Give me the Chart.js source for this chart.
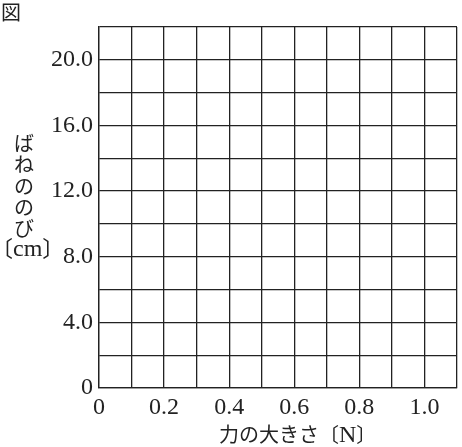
<!DOCTYPE html>
<html>
<head>
<meta charset="utf-8">
<script src="https://cdn.jsdelivr.net/npm/chart.js@4.4.1/dist/chart.umd.min.js"></script>
<style>
  html, body { margin: 0; padding: 0; background: #fff; }
  #wrap { position: relative; width: 462px; height: 447px; overflow: hidden; }
  canvas { position: absolute; left: 0; top: 0; }
  .jp { position: absolute; font-family: 'Noto Sans CJK JP', sans-serif; color: #222; white-space: nowrap; }
  .lat { font-family: 'Liberation Serif', serif; font-size: 24px; }
</style>
</head>
<body>
<div id="wrap">
  <canvas id="c" width="462" height="447"></canvas>
  <div class="jp" id="fig" style="left:1px; top:-1px; font-size:20px; line-height:26px;">図</div>
  <div class="jp" id="ytitle" style="left:14px; top:132px; width:20px; font-size:20px; line-height:21.3px; text-align:center;">ば<br>ね<br>の<br>の<br>び</div>
  <div class="jp" id="yunit" style="left:-9px; top:232px; font-size:22px; line-height:28px;">〔<span class="lat">cm</span>〕</div>
  <div class="jp" id="xtitle" style="left:219px; top:420px; font-size:20px; line-height:28px;">力の大きさ〔<span class="lat">N</span>〕</div>
</div>
<script>
// Grid / tick positions and their labels
const xTickValues = [0, 0.1, 0.2, 0.3, 0.4, 0.5, 0.6, 0.7, 0.8, 0.9, 1.0, 1.1];
const xTickLabels = ['0', '', '0.2', '', '0.4', '', '0.6', '', '0.8', '', '1.0', ''];
const yTickValues = [0, 2, 4, 6, 8, 10, 12, 14, 16, 18, 20, 22];
const yTickLabels = ['0', '', '4.0', '', '8.0', '', '12.0', '', '16.0', '', '20.0', ''];
// No measured data plotted in the reference (blank graph sheet)
const forceValues = [];
const stretchValues = [];

const lineColor = '#222';
const tickFont = { family: "'Liberation Serif', serif", size: 24 };

new Chart(document.getElementById('c'), {
  type: 'scatter',
  data: {
    datasets: [{
      label: 'ばねののび',
      data: forceValues.map((x, i) => ({ x: x, y: stretchValues[i] })),
      pointRadius: 3,
      borderColor: lineColor,
      backgroundColor: lineColor
    }]
  },
  options: {
    responsive: false,
    animation: false,
    devicePixelRatio: 1,
    layout: { padding: { top: 27, right: 3, left: 0, bottom: 0 } },
    plugins: { legend: { display: false }, tooltip: { enabled: false } },
    scales: {
      x: {
        type: 'linear',
        min: xTickValues[0],
        max: xTickValues[xTickValues.length - 1],
        afterBuildTicks: s => { s.ticks = xTickValues.map(v => ({ value: v })); },
        afterFit: s => { s.height = 59; },
        grid: { color: lineColor, lineWidth: 1.3, drawTicks: false },
        border: { display: true, color: lineColor, width: 1.3 },
        ticks: {
          autoSkip: false,
          maxRotation: 0,
          padding: 5,
          color: lineColor,
          font: tickFont,
          callback: (v, i) => xTickLabels[i]
        }
      },
      y: {
        type: 'linear',
        min: yTickValues[0],
        max: yTickValues[yTickValues.length - 1],
        afterBuildTicks: s => { s.ticks = yTickValues.map(v => ({ value: v })); },
        afterFit: s => { s.width = 99; },
        grid: { color: lineColor, lineWidth: 1.3, drawTicks: false },
        border: { display: true, color: lineColor, width: 1.3 },
        ticks: {
          autoSkip: false,
          padding: 6,
          color: lineColor,
          font: tickFont,
          callback: (v, i) => yTickLabels[i]
        }
      }
    }
  }
});
</script>
</body>
</html>
